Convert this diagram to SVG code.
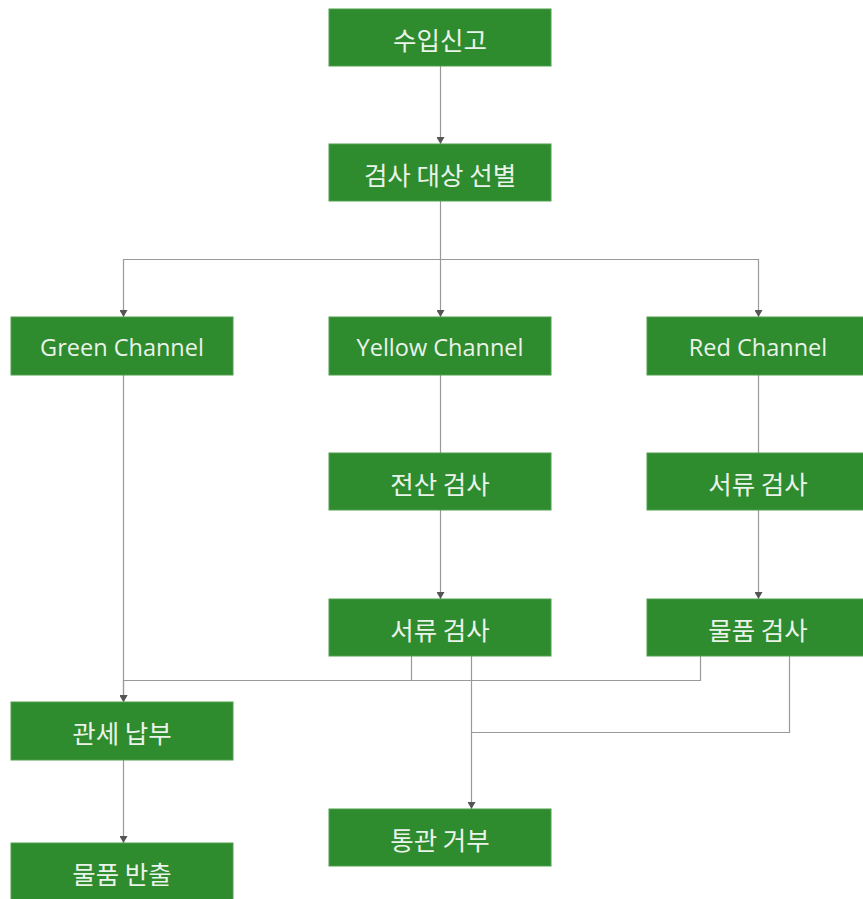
<svg xmlns="http://www.w3.org/2000/svg" width="863" height="899" viewBox="0 0 863 899">
<defs>
<style>
.box{fill:#2e8b2e;stroke:#4f9f4f;stroke-width:1}
.lbl{fill:#eaf3ea;font-family:"Open Sans","Noto Sans CJK KR",sans-serif;font-size:23.5px;text-anchor:middle;dominant-baseline:central}
.ko{font-family:"Noto Sans CJK KR",sans-serif;font-size:25.5px}
.ln{fill:none;stroke:#999999;stroke-width:1.2}
</style>
<marker id="ah" viewBox="0 0 7 8" refX="7" refY="4" markerWidth="7" markerHeight="8" markerUnits="userSpaceOnUse" orient="auto">
<path d="M0,0 L7,4 L0,8 Z" fill="#555555"/>
</marker>
</defs>
<rect width="863" height="899" fill="#ffffff"/>
<g id="connectors">
<path class="ln" d="M440.5,66 V144" marker-end="url(#ah)"/>
<path class="ln" d="M440.5,201 V317" marker-end="url(#ah)"/>
<path class="ln" d="M440.5,259.5 H123.5 V317" marker-end="url(#ah)"/>
<path class="ln" d="M440.5,259.5 H758.5 V317" marker-end="url(#ah)"/>
<path class="ln" d="M123.5,375 V702" marker-end="url(#ah)"/>
<path class="ln" d="M440.5,375 V453"/>
<path class="ln" d="M440.5,510 V599" marker-end="url(#ah)"/>
<path class="ln" d="M758.5,375 V453"/>
<path class="ln" d="M758.5,510 V599" marker-end="url(#ah)"/>
<path class="ln" d="M411.5,656 V680.5 H123.5 V702" marker-end="url(#ah)"/>
<path class="ln" d="M700.5,656 V680.5 H123.5"/>
<path class="ln" d="M471.5,656 V809" marker-end="url(#ah)"/>
<path class="ln" d="M789.5,656 V732.5 H471.5"/>
<path class="ln" d="M123.5,760 V843" marker-end="url(#ah)"/>
</g>
<g id="n1"><rect class="box" x="329" y="9" width="222" height="57"/><text class="lbl ko" x="440" y="38">수입신고</text></g>
<g id="n2"><rect class="box" x="329" y="144" width="222" height="57"/><text class="lbl ko" x="440" y="173">검사 대상 선별</text></g>
<g id="green"><rect class="box" x="11" y="317" width="222" height="58"/><text class="lbl" x="122" y="347">Green Channel</text></g>
<g id="yellow"><rect class="box" x="329" y="317" width="222" height="58"/><text class="lbl" x="440" y="347">Yellow Channel</text></g>
<g id="red"><rect class="box" x="647" y="317" width="222" height="58"/><text class="lbl" x="758" y="347">Red Channel</text></g>
<g id="y1"><rect class="box" x="329" y="453" width="222" height="57"/><text class="lbl ko" x="440" y="482">전산 검사</text></g>
<g id="r1"><rect class="box" x="647" y="453" width="222" height="57"/><text class="lbl ko" x="758" y="482">서류 검사</text></g>
<g id="y2"><rect class="box" x="329" y="599" width="222" height="57"/><text class="lbl ko" x="440" y="628">서류 검사</text></g>
<g id="r2"><rect class="box" x="647" y="599" width="222" height="57"/><text class="lbl ko" x="758" y="628">물품 검사</text></g>
<g id="tax"><rect class="box" x="11" y="702" width="222" height="58"/><text class="lbl ko" x="122" y="731">관세 납부</text></g>
<g id="release"><rect class="box" x="11" y="843" width="222" height="57"/><text class="lbl ko" x="122" y="872">물품 반출</text></g>
<g id="reject"><rect class="box" x="329" y="809" width="222" height="57"/><text class="lbl ko" x="440" y="838">통관 거부</text></g>
</svg>
